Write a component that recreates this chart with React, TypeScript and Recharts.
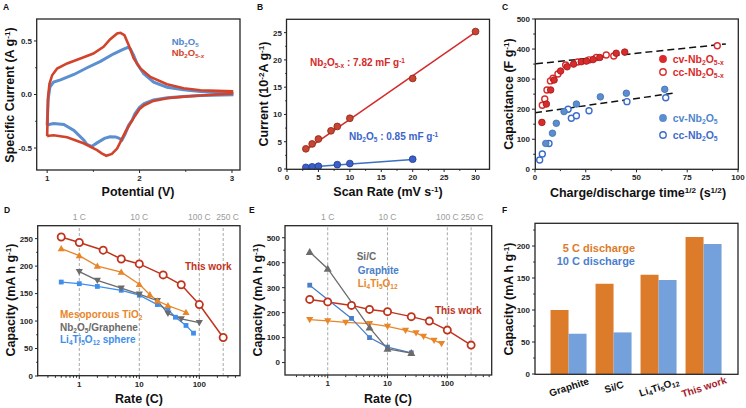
import React from 'react';
import { ComposedChart, Line, Scatter, XAxis, YAxis, ReferenceLine, BarChart, Bar } from 'recharts';

const FONT = '"Liberation Sans", Arial, Helvetica, sans-serif';
const AX = '#262626';

// ---------- A: cyclic voltammograms, [potential V, current A/g], anodic 1->3 V then back
const cvNb2O5: [number, number][] = [
  [1.0, -0.287], [1.01, -0.05], [1.03, 0.07], [1.07, 0.117], [1.144, 0.137], [1.29, 0.187],
  [1.432, 0.25], [1.577, 0.31], [1.72, 0.38], [1.81, 0.417], [1.872, 0.44], [1.9, 0.427],
  [1.937, 0.364], [1.973, 0.286], [2.045, 0.193], [2.153, 0.115], [2.297, 0.068], [2.477, 0.044],
  [2.658, 0.028], [3.0, 0.013], [3.0, -0.003], [2.66, -0.01], [2.48, -0.018], [2.3, -0.03],
  [2.15, -0.05], [2.05, -0.085], [2.0, -0.12], [1.95, -0.18], [1.92, -0.24], [1.88, -0.29],
  [1.846, -0.365], [1.81, -0.425], [1.78, -0.41], [1.74, -0.396], [1.68, -0.395], [1.62, -0.41],
  [1.54, -0.452], [1.48, -0.485], [1.43, -0.465], [1.4, -0.43], [1.29, -0.335], [1.18, -0.28],
  [1.07, -0.27], [1.02, -0.28], [1.0, -0.287],
];
const cvNb2O5x: [number, number][] = [
  [1.0, -0.39], [1.01, -0.02], [1.025, 0.1], [1.054, 0.18], [1.108, 0.243], [1.216, 0.29],
  [1.36, 0.336], [1.5, 0.383], [1.61, 0.445], [1.68, 0.514], [1.757, 0.57], [1.793, 0.576],
  [1.836, 0.554], [1.883, 0.46], [1.937, 0.336], [2.009, 0.243], [2.117, 0.164], [2.297, 0.096],
  [2.477, 0.059], [2.658, 0.04], [2.838, 0.034], [3.0, 0.031], [3.0, 0.01], [2.66, -0.01],
  [2.48, -0.02], [2.3, -0.035], [2.15, -0.06], [2.05, -0.1], [2.0, -0.135], [1.95, -0.2],
  [1.9, -0.27], [1.846, -0.35], [1.8, -0.43], [1.757, -0.505], [1.7, -0.555], [1.64, -0.572],
  [1.59, -0.55], [1.54, -0.52], [1.4, -0.458], [1.216, -0.4], [1.07, -0.38], [1.02, -0.385],
  [1.0, -0.39],
];

// ---------- B: peak current vs scan rate
const scanRateX = [3, 4, 5, 7, 8, 10, 20, 30];
const currentX = [3.7, 4.6, 5.5, 7.0, 7.8, 9.3, 16.6, 25.2];
const scanRate = [3, 4, 5, 8, 10, 20];
const current = [0.3, 0.4, 0.5, 0.8, 1.0, 1.8];
const fitX: [number, number][] = [[3, 3.5], [30, 25.1]];
const fit: [number, number][] = [[3, 0.3], [20, 1.75]];

// ---------- C: capacitance vs t^1/2
const cvCapX: [number, number][] = [
  [3.4, 156], [5.6, 217], [7.7, 264], [9.4, 297], [12.6, 327], [15.8, 341], [19, 350],
  [22.8, 358], [25.3, 360], [28.6, 365], [31.9, 372], [40, 386], [44.2, 390],
];
const ccCapX: [number, number][] = [
  [3.6, 213], [4.8, 234], [5.9, 264], [7.6, 294], [8.9, 303], [11.3, 317], [15.1, 347],
  [21, 357], [26.6, 364], [30.2, 372], [35.1, 380], [38.8, 377], [89.8, 411],
];
const cvCap: [number, number][] = [
  [5.3, 86], [8.6, 120], [10.5, 153], [14.3, 192], [20.4, 217], [32.2, 241], [45, 253], [63.9, 266],
];
const ccCap: [number, number][] = [
  [2.3, 31], [3.6, 51], [6.9, 86], [16.3, 200], [17.9, 170], [20.4, 178], [26.6, 195], [45.3, 225], [64.4, 238],
];
const capFitX: [number, number][] = [[0.5, 351], [94, 417]];
const capFit: [number, number][] = [[0, 188], [68, 253]];

// ---------- D / E: rate capability (rate C, mA h/g)
const thisWork: [number, number][] = [[0.5, 253], [1, 243], [2.5, 229], [5, 213], [10, 204], [25, 184], [50, 166], [100, 130], [250, 70]];
const mesoTiO2: [number, number][] = [[0.5, 232], [1, 219], [2, 200], [5, 189], [10, 167], [15, 148], [20, 137], [30, 128], [60, 116]];
const nbGraphene: [number, number][] = [[1, 190], [2, 174], [5, 160], [10, 149], [20, 137], [30, 114], [50, 104], [100, 97]];
const ltoSphere: [number, number][] = [[0.5, 171], [1, 168], [2, 163], [5, 156], [10, 147], [20, 130], [30, 121], [40, 107], [60, 92], [80, 78]];
const siC: [number, number][] = [[0.5, 443], [1, 376], [5, 140], [10, 55], [25, 38]];
const graphite: [number, number][] = [[0.5, 310], [2.5, 177], [5, 100], [10, 62], [25, 39]];
const lto: [number, number][] = [[0.5, 172], [1, 167], [2, 161], [5, 156], [10, 145], [20, 129], [30, 119], [40, 105], [60, 89], [80, 76]];
const rateMarks = [1, 10, 100, 250];
const rateMarkLabels = ['1 C', '10 C', '100 C', '250 C'];

// ---------- F: bars
const anodes = ['Graphite', 'Si/C', 'Li4Ti5O12', 'This work'];
const cap5C = [100, 141, 155, 214];
const cap10C = [63, 65, 147, 203];

const pts = (a: [number, number][]) => a.map(([x, y]) => ({ x, y }));

type Fr = { l: number; t: number; r: number; b: number };
const FA: Fr = { l: 36.7, t: 19, r: 240, b: 170 };
const FB: Fr = { l: 286.5, t: 19.3, r: 489.5, b: 169.3 };
const FC: Fr = { l: 535.3, t: 19, r: 738.3, b: 169.3 };
const FD: Fr = { l: 37.7, t: 225.7, r: 240, b: 375.7 };
const FE: Fr = { l: 285, t: 225.7, r: 491.7, b: 375 };
const FF: Fr = { l: 535, t: 223.3, r: 738, b: 374.3 };

function box(f: Fr, s: Fr) {
  return {
    style: { position: 'absolute' as const, left: f.l - s.l, top: f.t - s.t },
    width: s.l + f.r - f.l + s.r,
    height: s.t + f.b - f.t + s.b,
    margin: { top: s.t, right: s.r, bottom: 0, left: 0 },
    yw: s.l,
    xh: s.b,
  };
}
const SP: Fr = { l: 28, t: 4, r: 8, b: 16 };
const SPT: Fr = { l: 28, t: 18, r: 8, b: 16 };

function axis(side: 'bottom' | 'left', major: number[], minor: number[], fmt = (v: number) => String(v)) {
  return {
    ticks: [...major, ...minor],
    interval: 0 as const,
    tickSize: 0,
    tickMargin: 0,
    tickLine: false,
    axisLine: false,
    tick: (p: any) => {
      const v = p.payload.value;
      const big = major.includes(v);
      const len = big ? 3 : 1.8;
      if (side === 'bottom') {
        return (
          <g>
            <line x1={p.x} x2={p.x} y1={p.y} y2={p.y + len} stroke={AX} strokeWidth={1} />
            {big && (
              <text x={p.x} y={p.y + 11} textAnchor="middle" fontSize={8} fontWeight={700} fill={AX} fontFamily={FONT}>
                {fmt(v)}
              </text>
            )}
          </g>
        );
      }
      return (
        <g>
          <line x1={p.x} x2={p.x - len} y1={p.y} y2={p.y} stroke={AX} strokeWidth={1} />
          {big && (
            <text x={p.x - 5} y={p.y + 2.9} textAnchor="end" fontSize={8} fontWeight={700} fill={AX} fontFamily={FONT}>
              {fmt(v)}
            </text>
          )}
        </g>
      );
    },
  };
}

function mark(shape: string, color: string, s: number) {
  return (p: any) => {
    const { cx, cy, index } = p;
    const k = `${shape}-${index}`;
    if (typeof cx !== 'number' || typeof cy !== 'number') return <g key={k} />;
    if (shape === 'ring') return <circle key={k} cx={cx} cy={cy} r={s} fill="#fff" stroke={color} strokeWidth={1.8} />;
    if (shape === 'up') return <path key={k} d={`M${cx} ${cy - s}L${cx + s} ${cy + s * 0.75}L${cx - s} ${cy + s * 0.75}Z`} fill={color} />;
    if (shape === 'down') return <path key={k} d={`M${cx} ${cy + s}L${cx + s} ${cy - s * 0.75}L${cx - s} ${cy - s * 0.75}Z`} fill={color} />;
    return <rect key={k} x={cx - s * 0.8} y={cy - s * 0.8} width={s * 1.6} height={s * 1.6} fill={color} />;
  };
}
const ball = (fill: string, stroke: string, r: number) => (p: any) => (
  <circle cx={p.cx} cy={p.cy} r={r} fill={fill} stroke={stroke} strokeWidth={0.8} />
);
const ring = (color: string, r: number) => (p: any) => (
  <circle cx={p.cx} cy={p.cy} r={r} fill="#fff" stroke={color} strokeWidth={1.4} />
);

const Sub = ({ c }: { c: string }) => <span style={{ fontSize: '0.65em', position: 'relative', top: '0.32em' }}>{c}</span>;
const Sup = ({ c }: { c: string }) => <span style={{ fontSize: '0.65em', position: 'relative', top: '-0.45em' }}>{c}</span>;

function Txt({ x, y, size = 10, color = '#111', anchor = 'start', weight = 700, vertical = false, children }: any) {
  const tx = anchor === 'start' ? '0' : anchor === 'end' ? '-100%' : '-50%';
  const transform = vertical ? 'translate(-50%,-50%) rotate(-90deg)' : `translate(${tx},-50%)`;
  return (
    <div style={{ position: 'absolute', left: x, top: y, transform, fontSize: size, color, fontWeight: weight, lineHeight: 1, whiteSpace: 'nowrap', fontFamily: FONT }}>
      {children}
    </div>
  );
}

function LegendDot({ x, y, color, open }: any) {
  return (
    <svg style={{ position: 'absolute', left: x - 5, top: y - 5 }} width={10} height={10}>
      <circle cx={5} cy={5} r={3.2} fill={open ? '#fff' : color} stroke={color} strokeWidth={1.4} />
    </svg>
  );
}

const NbO = () => <>Nb<Sub c="2" />O<Sub c="5" /></>;
const NbOx = () => <>Nb<Sub c="2" />O<Sub c="5-x" /></>;
const LTO = () => <>Li<Sub c="4" />Ti<Sub c="5" />O<Sub c="12" /></>;

function PanelA() {
  const b = box(FA, SP);
  return (
    <div style={b.style}>
      <ComposedChart width={b.width} height={b.height} margin={b.margin}>
        <XAxis type="number" dataKey="x" domain={[0.89, 3.09]} allowDataOverflow height={b.xh} {...axis('bottom', [1, 2, 3], [1.5, 2.5])} />
        <YAxis type="number" domain={[-0.705, 0.705]} allowDataOverflow width={b.yw} {...axis('left', [-0.5, 0, 0.5], [-0.25, 0.25], (v) => v.toFixed(1))} />
        <Line data={pts(cvNb2O5)} dataKey="y" type="linear" stroke="#5A8FD0" strokeWidth={3} dot={false} activeDot={false} isAnimationActive={false} />
        <Line data={pts(cvNb2O5x)} dataKey="y" type="linear" stroke="#D1442B" strokeWidth={2.6} dot={false} activeDot={false} isAnimationActive={false} />
      </ComposedChart>
    </div>
  );
}

function PanelB() {
  const b = box(FB, SP);
  const red = scanRateX.map((x, i) => ({ x, y: currentX[i] }));
  const blue = scanRate.map((x, i) => ({ x, y: current[i] }));
  return (
    <div style={b.style}>
      <ComposedChart width={b.width} height={b.height} margin={b.margin}>
        <XAxis type="number" dataKey="x" domain={[0, 32.3]} allowDataOverflow height={b.xh} {...axis('bottom', [0, 5, 10, 15, 20, 25, 30], [2.5, 7.5, 12.5, 17.5, 22.5, 27.5])} />
        <YAxis type="number" domain={[0, 27.5]} allowDataOverflow width={b.yw} {...axis('left', [0, 5, 10, 15, 20, 25], [2.5, 7.5, 12.5, 17.5, 22.5])} />
        <Line data={pts(fitX)} dataKey="y" stroke="#D42A2A" strokeWidth={1.5} dot={false} activeDot={false} isAnimationActive={false} />
        <Line data={pts(fit)} dataKey="y" stroke="#3C70C0" strokeWidth={1.5} dot={false} activeDot={false} isAnimationActive={false} />
        <Scatter data={red} dataKey="y" shape={ball('#C84532', '#8B2414', 3.4)} isAnimationActive={false} />
        <Scatter data={blue} dataKey="y" shape={ball('#3B5FC8', '#223C92', 3.4)} isAnimationActive={false} />
      </ComposedChart>
    </div>
  );
}

function PanelC() {
  const b = box(FC, SP);
  return (
    <div style={b.style}>
      <ComposedChart width={b.width} height={b.height} margin={b.margin}>
        <XAxis type="number" dataKey="x" domain={[0, 100]} allowDataOverflow height={b.xh} {...axis('bottom', [0, 25, 50, 75, 100], [12.5, 37.5, 62.5, 87.5])} />
        <YAxis type="number" domain={[0, 500]} allowDataOverflow width={b.yw} {...axis('left', [0, 100, 200, 300, 400, 500], [50, 150, 250, 350, 450])} />
        <Line data={pts(capFitX)} dataKey="y" stroke="#111" strokeWidth={1.5} strokeDasharray="7 4" dot={false} activeDot={false} isAnimationActive={false} />
        <Line data={pts(capFit)} dataKey="y" stroke="#111" strokeWidth={1.5} strokeDasharray="7 4" dot={false} activeDot={false} isAnimationActive={false} />
        <Scatter data={pts(ccCap)} dataKey="y" shape={ring('#3D6DC8', 3)} isAnimationActive={false} />
        <Scatter data={pts(cvCap)} dataKey="y" shape={ball('#5B8ED0', '#3F6FB0', 3.3)} isAnimationActive={false} />
        <Scatter data={pts(ccCapX)} dataKey="y" shape={ring('#D92B2B', 3)} isAnimationActive={false} />
        <Scatter data={pts(cvCapX)} dataKey="y" shape={ball('#D92B2B', '#A01818', 3.3)} isAnimationActive={false} />
      </ComposedChart>
    </div>
  );
}

const minorLog = [0.3, 0.4, 0.5, 0.6, 0.7, 0.8, 0.9, 2, 3, 4, 5, 6, 7, 8, 9, 20, 30, 40, 50, 60, 70, 80, 90, 200, 300, 400];

const RateLabel = (props: any) => {
  const { viewBox, value, dx = 0 } = props;
  if (!viewBox) return null;
  return (
    <text x={viewBox.x + dx} y={viewBox.y - 6} textAnchor="middle" fontSize={8.5} fill="#9a9a9a" fontFamily={FONT}>
      {value}
    </text>
  );
};

function rateLines(shift: number[]) {
  return rateMarks.map((m, i) => (
    <ReferenceLine key={m} x={m} stroke="#a8a8a8" strokeDasharray="3 2" strokeWidth={1}
      label={<RateLabel value={rateMarkLabels[i]} dx={shift[i]} />} />
  ));
}

function rateLine(data: [number, number][], color: string, shape: string, s: number, w = 1.3) {
  return (
    <Line data={pts(data)} dataKey="y" stroke={color} strokeWidth={w} dot={mark(shape, color, s)} activeDot={false} isAnimationActive={false} />
  );
}

function PanelD() {
  const b = box(FD, SPT);
  return (
    <div style={b.style}>
      <ComposedChart width={b.width} height={b.height} margin={b.margin}>
        <XAxis type="number" dataKey="x" scale="log" domain={[0.205, 482]} allowDataOverflow height={b.xh} {...axis('bottom', [1, 10, 100], minorLog)} />
        <YAxis type="number" domain={[0, 273]} allowDataOverflow width={b.yw} {...axis('left', [0, 50, 100, 150, 200, 250], [25, 75, 125, 175, 225])} />
        {rateLines([0, 0, 0, 4.5])}
        {rateLine(ltoSphere, '#3E8EEA', 'square', 3)}
        {rateLine(nbGraphene, '#6B6B6B', 'down', 3.6)}
        {rateLine(mesoTiO2, '#E8862A', 'up', 3.6)}
        {rateLine(thisWork, '#C0341D', 'ring', 3.6, 1.5)}
      </ComposedChart>
    </div>
  );
}

function PanelE() {
  const b = box(FE, SPT);
  return (
    <div style={b.style}>
      <ComposedChart width={b.width} height={b.height} margin={b.margin}>
        <XAxis type="number" dataKey="x" scale="log" domain={[0.193, 552]} allowDataOverflow height={b.xh} {...axis('bottom', [1, 10, 100], [...minorLog, 500])} />
        <YAxis type="number" domain={[-51, 547]} allowDataOverflow width={b.yw} {...axis('left', [0, 100, 200, 300, 400, 500], [50, 150, 250, 350, 450])} />
        {rateLines([0, 0, 0, 1])}
        {rateLine(lto, '#E8862A', 'down', 3.6)}
        {rateLine(thisWork, '#C0341D', 'ring', 3.6, 1.5)}
        {rateLine(graphite, '#4A7EC6', 'square', 3)}
        {rateLine(siC, '#6B6B6B', 'up', 4)}
      </ComposedChart>
    </div>
  );
}

const barTick = (p: any) => {
  const name = p.payload.value as string;
  const color = name === 'This work' ? '#A5202A' : '#111';
  const content = name === 'Li4Ti5O12'
    ? <>Li<tspan dy={2} fontSize={7}>4</tspan><tspan dy={-2}>Ti</tspan><tspan dy={2} fontSize={7}>5</tspan><tspan dy={-2}>O</tspan><tspan dy={2} fontSize={7}>12</tspan></>
    : name;
  return (
    <g transform={`translate(${p.x},${p.y + 13}) rotate(-18)`}>
      <text x={0} y={3.5} textAnchor="middle" fontSize={10} fontWeight={700} fill={color} fontFamily={FONT}>{content}</text>
    </g>
  );
};

function PanelF() {
  const b = box(FF, { l: 28, t: 4, r: 6, b: 30 });
  const data = anodes.map((name, i) => ({ name, c5: cap5C[i], c10: cap10C[i] }));
  return (
    <div style={b.style}>
      <BarChart width={b.width} height={b.height} margin={b.margin} data={data} barCategoryGap="9%" barGap={0}>
        <XAxis dataKey="name" padding={{ left: 11.5, right: 11.5 }} tickLine={false} axisLine={false} tickSize={0} tickMargin={0} interval={0} tick={barTick} height={b.xh} />
        <YAxis type="number" domain={[0, 236]} allowDataOverflow width={b.yw} {...axis('left', [0, 50, 100, 150, 200], [25, 75, 125, 175, 225])} />
        <Bar dataKey="c5" fill="#DC7C2A" isAnimationActive={false} />
        <Bar dataKey="c10" fill="#74A0DB" isAnimationActive={false} />
      </BarChart>
    </div>
  );
}

export default function App() {
  const frames = [FA, FB, FC, FD, FE, FF];
  const lab = 12.5;
  return (
    <div style={{ position: 'absolute', left: 0, top: 0, width: 746, height: 408, background: '#fff', overflow: 'hidden', fontFamily: FONT }}>
      <PanelA />
      <PanelB />
      <PanelC />
      <PanelD />
      <PanelE />
      <PanelF />
      <svg style={{ position: 'absolute', left: 0, top: 0, pointerEvents: 'none' }} width={746} height={408}>
        {frames.map((f, i) => (
          <rect key={i} x={f.l} y={f.t} width={f.r - f.l} height={f.b - f.t} fill="none" stroke={AX} strokeWidth={1.3} />
        ))}
      </svg>

      {/* panel letters */}
      <Txt x={3} y={6.5} size={8.5}>A</Txt>
      <Txt x={257} y={6.5} size={8.5}>B</Txt>
      <Txt x={502} y={6.5} size={8.5}>C</Txt>
      <Txt x={4} y={210} size={8.5}>D</Txt>
      <Txt x={249} y={210} size={8.5}>E</Txt>
      <Txt x={502} y={210} size={8.5}>F</Txt>

      {/* A */}
      <Txt x={10} y={94.5} size={lab} vertical>Specific Current (A g<Sup c="-1" />)</Txt>
      <Txt x={138} y={191.7} size={lab} anchor="middle">Potential (V)</Txt>
      <Txt x={171.7} y={41.7} size={9.5} color="#4F86CC"><NbO /></Txt>
      <Txt x={171.7} y={52.7} size={9.5} color="#D1442B">Nb<Sub c="2" />O<span style={{ fontSize: '0.65em', position: 'relative', top: '0.32em' }}>5-<i>x</i></span></Txt>

      {/* B */}
      <Txt x={264} y={94} size={lab} vertical>Current (10<Sup c="-2" />A g<Sup c="-1" />)</Txt>
      <Txt x={388} y={192} size={lab} anchor="middle">Scan Rate (mV s<Sup c="-1" />)</Txt>
      <Txt x={310} y={62.7} size={10} color="#D42A2A"><NbOx /> : 7.82 mF g<Sup c="-1" /></Txt>
      <Txt x={349} y={137.3} size={10} color="#3C64C8"><NbO /> : 0.85 mF g<Sup c="-1" /></Txt>

      {/* C */}
      <Txt x={509} y={94} size={lab} vertical>Capacitance (F g<Sup c="-1" />)</Txt>
      <Txt x={638} y={193} size={lab} anchor="middle">Charge/discharge time<Sup c="1/2" /> (s<Sup c="1/2" />)</Txt>
      <LegendDot x={663.3} y={59.3} color="#D92B2B" />
      <LegendDot x={663.3} y={71.5} color="#D92B2B" open />
      <LegendDot x={663.3} y={118.3} color="#5B8ED0" />
      <LegendDot x={663.3} y={135} color="#3D6DC8" open />
      <Txt x={672.7} y={59.3} size={10.5} color="#D92B2B">cv-<NbOx /></Txt>
      <Txt x={672.7} y={71.5} size={10.5} color="#D92B2B">cc-<NbOx /></Txt>
      <Txt x={672.7} y={118.3} size={10.5} color="#4F86CC">cv-<NbO /></Txt>
      <Txt x={672.7} y={135} size={10.5} color="#3D6DC8">cc-<NbO /></Txt>

      {/* D */}
      <Txt x={11} y={300} size={lab} vertical>Capacity (mA h g<Sup c="-1" />)</Txt>
      <Txt x={139} y={399} size={lab} anchor="middle">Rate (C)</Txt>
      <Txt x={185} y={266.7} size={10} color="#C0341D">This work</Txt>
      <Txt x={60} y={315} size={10} color="#E8862A">Mesoporous TiO<Sub c="2" /></Txt>
      <Txt x={60} y={327.7} size={10} color="#6B6B6B"><NbO />/Graphene</Txt>
      <Txt x={60} y={340} size={10} color="#3E8EEA"><LTO /> sphere</Txt>

      {/* E */}
      <Txt x={258} y={300} size={lab} vertical>Capacity (mA h g<Sup c="-1" />)</Txt>
      <Txt x={388} y={399} size={lab} anchor="middle">Rate (C)</Txt>
      <Txt x={356.7} y={256.7} size={10} color="#6B6B6B">Si/C</Txt>
      <Txt x={357.7} y={271} size={10} color="#4A7EC6">Graphite</Txt>
      <Txt x={357.7} y={284} size={10} color="#E8862A"><LTO /></Txt>
      <Txt x={435} y={311} size={10} color="#C0341D">This work</Txt>

      {/* F */}
      <Txt x={509} y={299} size={lab} vertical>Capacity (mA h g<Sup c="-1" />)</Txt>
      <Txt x={635} y={248.3} size={11} color="#DC7C2A" anchor="end">5 C discharge</Txt>
      <Txt x={635} y={261} size={11} color="#4A7FD0" anchor="end">10 C discharge</Txt>
    </div>
  );
}
